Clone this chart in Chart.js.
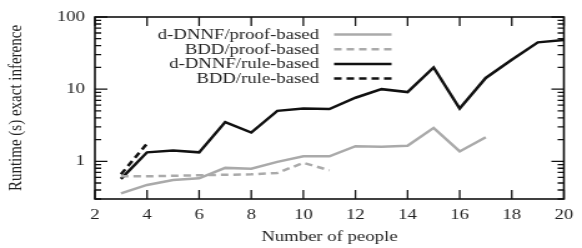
<!DOCTYPE html>
<html>
<head>
<meta charset="utf-8">
<script src="https://cdn.jsdelivr.net/npm/chart.js@4/dist/chart.umd.min.js"></script>
<style>
  html, body { margin: 0; padding: 0; background: #fff; overflow: hidden; }
  /* the reference is horizontally stretched, so draw narrow and stretch */
  #wrap { width: 466px; height: 248px; transform: scaleX(1.2489); transform-origin: 0 0; }
</style>
</head>
<body>
<div id="wrap"><canvas id="c"></canvas></div>
<script>
// data
const people = [3, 4, 5, 6, 7, 8, 9, 10, 11, 12, 13, 14, 15, 16, 17, 18, 19, 20];
const dnnfProof = [0.36, 0.47, 0.55, 0.58, 0.81, 0.79, 0.98, 1.17, 1.17, 1.62, 1.59, 1.64, 2.9, 1.37, 2.15];
const bddProof = [0.62, 0.62, 0.63, 0.64, 0.65, 0.66, 0.69, 0.95, 0.75];
const dnnfRule = [0.57, 1.33, 1.41, 1.33, 3.5, 2.5, 5.0, 5.4, 5.3, 7.6, 10, 9.1, 20, 5.4, 14.3, 25.5, 44.5, 48];
const bddRule = [0.66, 1.76];
const xTicks = [2, 4, 6, 8, 10, 12, 14, 16, 18, 20];
const yTicks = [1, 10, 100];

const FONT = "'Liberation Serif', 'Times New Roman', serif";
const GRAY = "#aaaaaa";
const BLACK = "#111111";

const toPts = (vals) => vals.map((v, i) => ({ x: people[i], y: v }));

// frame, inward ticks and legend, gnuplot style
const decor = {
    id: "decor",
    afterDatasetsDraw(chart) {
        const { ctx, chartArea: a, scales } = chart;
        const xs = scales.x, ys = scales.y;
        ctx.save();
        ctx.strokeStyle = "#111";
        ctx.lineWidth = 1.6;
        ctx.strokeRect(a.left, a.top, a.right - a.left, a.bottom - a.top);

        ctx.lineWidth = 1.3;
        ctx.beginPath();
        xTicks.forEach((t) => {
            const px = xs.getPixelForValue(t);
            ctx.moveTo(px, a.bottom); ctx.lineTo(px, a.bottom - 9);
            ctx.moveTo(px, a.top); ctx.lineTo(px, a.top + 9);
        });
        for (let d = 0.1; d < 100; d *= 10) {
            for (let m = 1; m <= 9; m++) {
                const v = d * m;
                if (v < ys.min || v > ys.max) continue;
                const py = ys.getPixelForValue(v);
                const len = m === 1 ? 10 : 5;
                ctx.moveTo(a.left, py); ctx.lineTo(a.left + len, py);
                ctx.moveTo(a.right, py); ctx.lineTo(a.right - len, py);
            }
        }
        const py100 = ys.getPixelForValue(100);
        ctx.moveTo(a.left, py100); ctx.lineTo(a.left + 10, py100);
        ctx.moveTo(a.right, py100); ctx.lineTo(a.right - 10, py100);
        ctx.stroke();

        // legend
        ctx.font = "15px " + FONT;
        ctx.fillStyle = "#222";
        ctx.textAlign = "right";
        ctx.textBaseline = "middle";
        const tx = a.right - 196, lx0 = a.right - 184, lx1 = a.right - 138;
        chart.data.datasets.forEach((ds, i) => {
            const y = a.top + 17.5 + i * 14.7;
            ctx.fillText(ds.label, tx, y + 0.5);
            ctx.strokeStyle = ds.borderColor;
            ctx.lineWidth = ds.borderWidth;
            ctx.setLineDash(ds.borderDash || []);
            ctx.beginPath();
            ctx.moveTo(lx0, y); ctx.lineTo(lx1, y);
            ctx.stroke();
        });
        ctx.restore();
    }
};

new Chart(document.getElementById("c"), {
    type: "line",
    data: {
        datasets: [
            { label: "d-DNNF/proof-based", data: toPts(dnnfProof), borderColor: GRAY, borderWidth: 2.5 },
            { label: "BDD/proof-based", data: toPts(bddProof), borderColor: GRAY, borderWidth: 2.5, borderDash: [6, 4] },
            { label: "d-DNNF/rule-based", data: toPts(dnnfRule), borderColor: BLACK, borderWidth: 2.5 },
            { label: "BDD/rule-based", data: toPts(bddRule), borderColor: BLACK, borderWidth: 2.5, borderDash: [6, 4] },
        ],
    },
    options: {
        responsive: true,
        maintainAspectRatio: false,
        animation: false,
        elements: { point: { radius: 0 }, line: { tension: 0 } },
        layout: { padding: { top: 15, right: 8, left: 0, bottom: 0 } },
        plugins: { legend: { display: false }, tooltip: { enabled: false } },
        scales: {
            x: {
                type: "linear",
                min: 2,
                max: 20,
                afterBuildTicks: (s) => { s.ticks = xTicks.map((v) => ({ value: v })); },
                afterFit: (s) => { s.height = 49; },
                grid: { display: false, drawTicks: false },
                border: { display: false },
                ticks: { color: "#222", padding: 7, maxRotation: 0, font: { family: FONT, size: 15 } },
                title: { display: true, text: "Number of people", color: "#222", padding: { top: 0, bottom: 2 }, font: { family: FONT, size: 15 } },
            },
            y: {
                type: "logarithmic",
                min: 0.3,
                max: 100,
                afterBuildTicks: (s) => { s.ticks = yTicks.map((v) => ({ value: v })); },
                afterFit: (s) => { s.width = 76; },
                grid: { display: false, drawTicks: false },
                border: { display: false },
                ticks: { color: "#222", padding: 8, callback: (v) => String(v), font: { family: FONT, size: 15 } },
                title: { display: true, text: "Runtime (s) exact inference", color: "#222", padding: { top: 4, bottom: 0 }, font: { family: FONT, size: 15 } },
            },
        },
    },
    plugins: [decor],
});
</script>
</body>
</html>
